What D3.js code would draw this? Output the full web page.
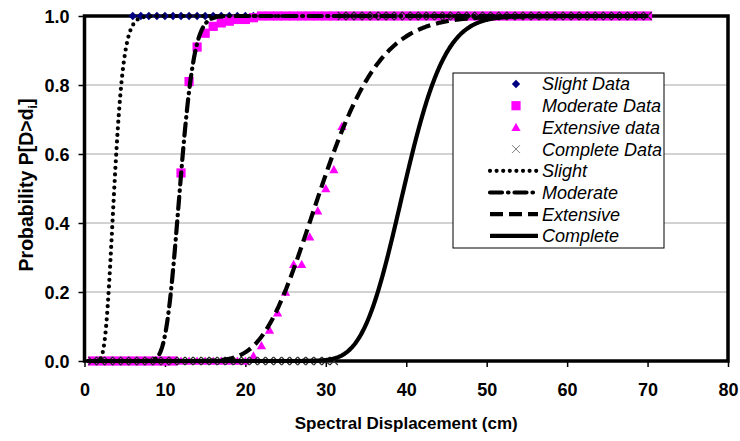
<!DOCTYPE html>
<html>
<head>
<meta charset="utf-8">
<script src="https://cdn.jsdelivr.net/npm/d3@7"></script>
<style>
  html, body { margin: 0; padding: 0; background: #ffffff; }
  svg { display: block; }
  text { font-family: "Liberation Sans", Arial, sans-serif; }
</style>
</head>
<body>
<svg id="chart" width="740" height="441"></svg>
<script>
// Spectral displacement of each observation (cm)
const dispCm = [
   1, 2, 3, 4, 5, 6, 7, 8, 9,10,
  11,12,13,14,15,16,17,18,19,20,
  21,22,23,24,25,26,27,28,29,30,
  31,32,33,34,35,36,37,38,39,40,
  41,42,43,44,45,46,47,48,49,50,
  51,52,53,54,55,56,57,58,59,60,
  61,62,63,64,65,66,67,68,69,70
];

// Observed exceedance probabilities per damage state
const slightData = [
  0,0,0,0,0,1,1,1,1,1,
  1,1,1,1,1,1,1,1,1,1,
  1,1,1,1,1,1,1,1,1,1,
  1,1,1,1,1,1,1,1,1,1,
  1,1,1,1,1,1,1,1,1,1,
  1,1,1,1,1,1,1,1,1,1,
  1,1,1,1,1,1,1,1,1,1
];
const moderateData = [
  0,0,0,0,0,0,0,0,0,0,
  0,0.545,0.81,0.91,0.95,0.97,0.98,0.985,0.99,0.99,
  0.995,1,1,1,1,1,1,1,1,1,
  1,1,1,1,1,1,1,1,1,1,
  1,1,1,1,1,1,1,1,1,1,
  1,1,1,1,1,1,1,1,1,1,
  1,1,1,1,1,1,1,1,1,1
];
const extensiveData = [
  0,0,0,0,0,0,0,0,0,0,
  0,0,0,0,0,0,0,0,0,0,
  0.015,0.045,0.09,0.14,0.20,0.28,0.28,0.36,0.435,0.50,
  0.555,0.68,1,1,1,1,1,1,1,1,
  1,1,1,1,1,1,1,1,1,1,
  1,1,1,1,1,1,1,1,1,1,
  1,1,1,1,1,1,1,1,1,1
];
const completeData = [
  0,0,0,0,0,0,0,0,0,0,
  0,0,0,0,0,0,0,0,0,0,
  0,0,0,0,0,0,0,0,0,0,
  0,1,1,1,1,1,1,1,1,1,
  1,1,1,1,1,1,1,1,1,1,
  1,1,1,1,1,1,1,1,1,1,
  1,1,1,1,1,1,1,1,1,1
];

// Fitted lognormal fragility curves: median (cm) and log standard deviation
const damageStates = ["Slight", "Moderate", "Extensive", "Complete"];
const fragilityMedian = [3.7, 11.86, 29.4, 39.7];
const fragilityBeta   = [0.25, 0.118, 0.197, 0.101];

// Axis ticks
const xTicks = [0, 10, 20, 30, 40, 50, 60, 70, 80];
const yTicks = [0.0, 0.2, 0.4, 0.6, 0.8, 1.0];

const svg = d3.select("#chart");
const W = 740, H = 441;
const m = { left: 84.5, right: 12, top: 16, bottom: 80 };

const x = d3.scaleLinear().domain([0, 80]).range([m.left, W - m.right]);
const y = d3.scaleLinear().domain([0, 1]).range([H - m.bottom, m.top]);

svg.append("rect").attr("width", W).attr("height", H).attr("fill", "#ffffff");

// Horizontal gridlines
svg.append("g")
  .selectAll("line")
  .data(yTicks.filter(t => t > 0 && t < 1))
  .join("line")
  .attr("x1", x(0)).attr("x2", x(80))
  .attr("y1", d => y(d)).attr("y2", d => y(d))
  .attr("stroke", "#a6a6a6").attr("stroke-width", 1);

// Axes with outward ticks
const xAxis = svg.append("g")
  .attr("transform", `translate(0,${y(0)})`)
  .call(d3.axisBottom(x).tickValues(xTicks).tickSize(6).tickFormat(d3.format("d")));
const yAxis = svg.append("g")
  .attr("transform", `translate(${x(0)},0)`)
  .call(d3.axisLeft(y).tickValues(yTicks).tickSize(6).tickFormat(d3.format(".1f")));

[xAxis, yAxis].forEach(g => {
  g.attr("font-size", null).attr("font-family", null);
  g.select(".domain").remove();
  g.selectAll(".tick line").attr("stroke", "#000").attr("stroke-width", 1.5);
  g.selectAll(".tick text")
    .attr("fill", "#000")
    .style("font-size", "18px")
    .style("font-weight", "bold")
    .style("font-family", "'Liberation Sans', Arial, sans-serif");
});
xAxis.selectAll(".tick text").attr("dy", null).attr("y", 35);
yAxis.selectAll(".tick text").attr("x", -15).attr("dy", "0.36em");

// Plot frame
svg.append("rect")
  .attr("x", x(0)).attr("y", y(1))
  .attr("width", x(80) - x(0)).attr("height", y(0) - y(1))
  .attr("fill", "none").attr("stroke", "#000").attr("stroke-width", 3.5);

// Marker shapes
const markerPath = {
  diamond: r => `M0,${-r}L${r},0L0,${r}L${-r},0Z`,
  square: r => `M${-r},${-r}H${r}V${r}H${-r}Z`,
  triangle: r => `M0,${-r}L${r},${r * 0.8}L${-r},${r * 0.8}Z`,
  cross: r => `M${-r},${-r}L${r},${r}M${r},${-r}L${-r},${r}`
};

const dataSeries = [
  { label: "Slight Data",    values: slightData,    shape: "diamond",  r: 4.2, fill: "#000080", stroke: "none" },
  { label: "Moderate Data",  values: moderateData,  shape: "square",   r: 4.6, fill: "#ff00ff", stroke: "none" },
  { label: "Extensive data", values: extensiveData, shape: "triangle", r: 4.6, fill: "#ff00ff", stroke: "none" },
  { label: "Complete Data",  values: completeData,  shape: "cross",    r: 4.0, fill: "none",    stroke: "#2a2a2a" }
];

const markers = svg.append("g");
dataSeries.forEach(s => {
  markers.append("g")
    .selectAll("path")
    .data(dispCm.map((d, i) => [d, s.values[i]]))
    .join("path")
    .attr("transform", d => `translate(${x(d[0])},${y(d[1])})`)
    .attr("d", markerPath[s.shape](s.r))
    .attr("fill", s.fill)
    .attr("stroke", s.stroke)
    .attr("stroke-width", s.stroke === "none" ? 0 : 1.1);
});

// Standard normal CDF (Abramowitz & Stegun 7.1.26)
function normCdf(z) {
  const t = 1 / (1 + 0.3275911 * Math.abs(z) / Math.SQRT2);
  const erf = 1 - (((((1.061405429 * t - 1.453152027) * t) + 1.421413741) * t - 0.284496736) * t + 0.254829592) * t * Math.exp(-z * z / 2);
  return z >= 0 ? 0.5 * (1 + erf) : 0.5 * (1 - erf);
}

const curveX = d3.range(0.5, 70.01, 0.1);
const lineStyles = [
  { dash: "0 6.6",        cap: "round", width: 4.2 },
  { dash: "12 6 0.5 6",   cap: "round", width: 4.2 },
  { dash: "13 6",         cap: "butt",  width: 4.2 },
  { dash: null,           cap: "butt",  width: 4.2 }
];

const line = d3.line().x(d => x(d[0])).y(d => y(d[1]));
const curves = svg.append("g");
damageStates.forEach((name, k) => {
  const pts = curveX.map(v => [v, normCdf(Math.log(v / fragilityMedian[k]) / fragilityBeta[k])]);
  const st = lineStyles[k];
  curves.append("path")
    .datum(pts)
    .attr("d", line)
    .attr("fill", "none")
    .attr("stroke", "#000")
    .attr("stroke-width", st.width)
    .attr("stroke-linecap", st.cap)
    .attr("stroke-linejoin", "round")
    .attr("stroke-dasharray", st.dash);
});

// Axis titles
svg.append("text")
  .attr("x", (x(0) + x(80)) / 2).attr("y", 429)
  .attr("text-anchor", "middle")
  .style("font-size", "17px").style("font-weight", "bold")
  .text("Spectral Displacement (cm)");

const yTitle = svg.append("text")
  .attr("transform", `translate(33,185) rotate(-90)`)
  .attr("text-anchor", "middle")
  .style("font-size", "19.5px").style("font-weight", "bold");
yTitle.append("tspan").text("Probability P[D>d");
yTitle.append("tspan").attr("dy", 4).style("font-size", "12px").text("i");
yTitle.append("tspan").attr("dy", -4).text("]");

// Legend
const lg = { x: 453, y: 73, w: 211, h: 175, rowH: 21.7, first: 84, symX: 516, textX: 542 };
svg.append("rect")
  .attr("x", lg.x).attr("y", lg.y).attr("width", lg.w).attr("height", lg.h)
  .attr("fill", "#ffffff").attr("stroke", "#000").attr("stroke-width", 1);

const legendItems = svg.append("g");
dataSeries.forEach((s, i) => {
  const cy = lg.first + i * lg.rowH;
  legendItems.append("path")
    .attr("transform", `translate(${lg.symX},${cy})`)
    .attr("d", markerPath[s.shape](s.r))
    .attr("fill", s.fill)
    .attr("stroke", s.stroke === "none" ? "none" : "#808080")
    .attr("stroke-width", 1);
  legendItems.append("text")
    .attr("x", lg.textX).attr("y", cy).attr("dy", "0.36em")
    .style("font-size", "18px").style("font-style", "italic")
    .text(s.label);
});
damageStates.forEach((name, k) => {
  const cy = lg.first + (k + 4) * lg.rowH;
  const st = lineStyles[k];
  legendItems.append("line")
    .attr("x1", 490).attr("x2", 538).attr("y1", cy).attr("y2", cy)
    .attr("stroke", "#000").attr("stroke-width", st.width)
    .attr("stroke-linecap", st.cap).attr("stroke-dasharray", st.dash);
  legendItems.append("text")
    .attr("x", lg.textX).attr("y", cy).attr("dy", "0.36em")
    .style("font-size", "18px").style("font-style", "italic")
    .text(name);
});
</script>
</body>
</html>
